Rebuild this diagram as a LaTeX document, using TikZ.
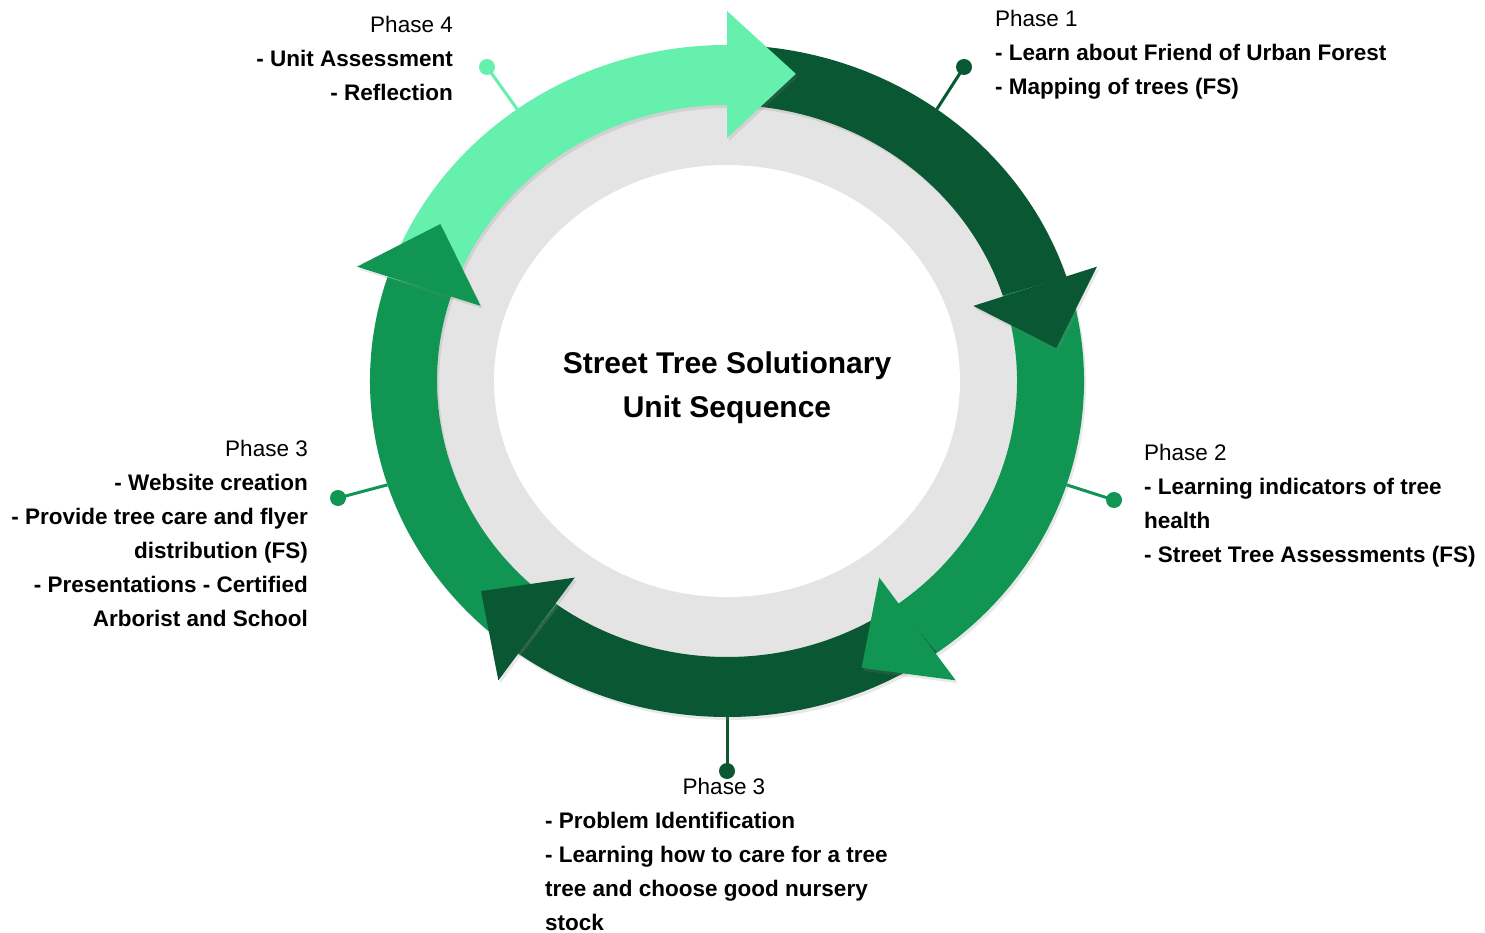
\documentclass[tikz,border=0pt]{standalone}
\usepackage{fontspec}
\setmainfont{Liberation Sans}
\usetikzlibrary{shapes,arrows,calc,shadows}
\definecolor{mintgreen}{RGB}{102,240,174}
\definecolor{darkgreen}{RGB}{10,87,51}
\definecolor{midgreen}{RGB}{16,150,82}
\definecolor{ringgray}{RGB}{228,228,228}
\tikzstyle{phaseText} = [inner sep=0pt, text=black, font=\fontsize{22.5}{34}\selectfont]
\tikzstyle{titleText} = [inner sep=0pt, align=center, font=\bfseries\fontsize{30}{44}\selectfont]
\tikzstyle{pinDot} = [circle, inner sep=0pt, minimum size=16pt]
\tikzstyle{pinLine} = [draw, line width=3pt]
\tikzstyle{ringShadow} = [drop shadow={shadow xshift=2pt, shadow yshift=-3pt, opacity=0.18}]

\begin{document}
\begin{tikzpicture}[x=1pt, y=-1pt]
  \useasboundingbox (0,0) rectangle (1485,933);

  % rim points, one per arc
  \begin{scope}[shift={(727,381)}]
    \coordinate (rim_ph4) at (-126:357 and 336);
    \coordinate (rim_ph1) at (-54:357 and 336);
    \coordinate (rim_ph2) at (18:357 and 336);
    \coordinate (rim_ph3b) at (90:357 and 336);
    \coordinate (rim_ph3l) at (162:357 and 336);
  \end{scope}

  % pins
  \node [pinDot, fill=mintgreen] (dot_ph4) at (487,67) {};
  \node [pinDot, fill=darkgreen] (dot_ph1) at (964,67) {};
  \node [pinDot, fill=midgreen] (dot_ph2) at (1114,500) {};
  \node [pinDot, fill=darkgreen] (dot_ph3b) at (727,771) {};
  \node [pinDot, fill=midgreen] (dot_ph3l) at (338,498) {};

  % edges
  \path [pinLine, mintgreen] (dot_ph4.center) -- (rim_ph4);
  \path [pinLine, darkgreen] (dot_ph1.center) -- (rim_ph1);
  \path [pinLine, midgreen] (dot_ph2.center) -- (rim_ph2);
  \path [pinLine, darkgreen] (dot_ph3b.center) -- (rim_ph3b);
  \path [pinLine, midgreen] (dot_ph3l.center) -- (rim_ph3l);

  % ring
  \begin{scope}[shift={(727,381)}]
    \fill [ringgray] (0,0) ellipse [x radius=300, y radius=285];
    \fill [white] (0,0) ellipse [x radius=233, y radius=216];
    % arc bodies
    \foreach \b/\col in {-90/mintgreen, -18/darkgreen, 54/midgreen, 126/darkgreen, 198/midgreen}
      \fill [\col, ringShadow] (\b-72:357 and 336)
        arc [start angle=\b-72, end angle=\b, x radius=357, y radius=336]
        -- (\b:290 and 276)
        arc [start angle=\b, end angle=\b-72, x radius=290, y radius=276] -- cycle;
    % arrow heads
    \foreach \b/\col in {-90/mintgreen, -18/darkgreen, 54/midgreen, 126/darkgreen, 198/midgreen}
      \fill [\col, ringShadow] (\b:389 and 370) -- (\b+12:331 and 314) -- (\b:259 and 243) -- cycle;
  \end{scope}

  % title
  \node [titleText, anchor=north] (title) at (727,352) {Street Tree Solutionary\\Unit Sequence};

  % phase labels
  \node [phaseText, anchor=north east, align=right] (txt_ph4) at (453,16)
    {Phase 4\\\textbf{- Unit Assessment}\\\textbf{- Reflection}};
  \node [phaseText, anchor=north west, align=left] (txt_ph1) at (995,10)
    {Phase 1\\\textbf{- Learn about Friend of Urban Forest}\\\textbf{- Mapping of trees (FS)}};
  \node [phaseText, anchor=north west, align=left] (txt_ph2) at (1144,444)
    {Phase 2\\\textbf{- Learning indicators of tree}\\\textbf{health}\\\textbf{- Street Tree Assessments (FS)}};
  \node [phaseText, anchor=north east, align=right] (txt_ph3l) at (308,440)
    {Phase 3\\\textbf{- Website creation}\\\textbf{- Provide tree care and flyer}\\\textbf{distribution (FS)}\\\textbf{- Presentations - Certified}\\\textbf{Arborist and School}};
  \node [phaseText, anchor=north] (head_ph3b) at (724,778) {Phase 3};
  \node [phaseText, anchor=north west, align=left] (txt_ph3b) at (545,812)
    {\textbf{- Problem Identification}\\\textbf{- Learning how to care for a tree}\\\textbf{tree and choose good nursery}\\\textbf{stock}};
\end{tikzpicture}
\end{document}
